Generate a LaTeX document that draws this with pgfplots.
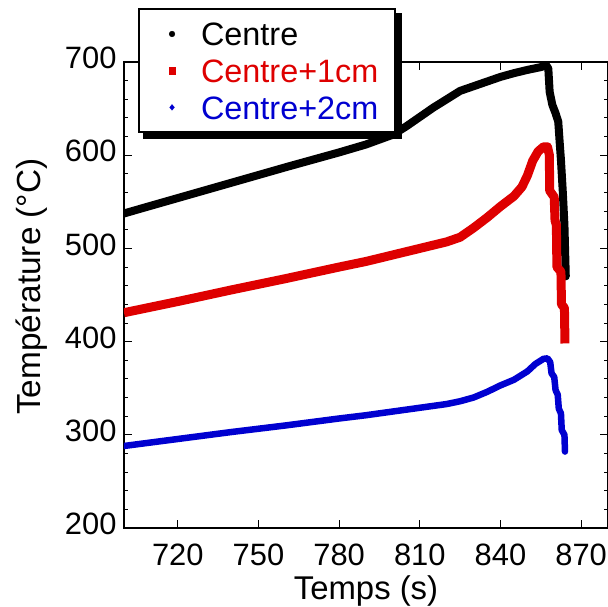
\documentclass[border=0pt]{standalone}
\usepackage{fontspec}
\setmainfont{Liberation Sans}
\usepackage{pgfplots}
\pgfplotsset{compat=1.18}
\definecolor{cred}{RGB}{222,0,0}
\definecolor{cblue}{RGB}{0,0,208}
\begin{document}
\begin{tikzpicture}
\begin{axis}[
 scale only axis, width=484bp, height=466bp,
 xmin=700, xmax=880, ymin=200, ymax=700,
 xtick={720,750,...,870}, ytick={200,300,...,700},
 minor y tick num=4,
 tick align=inside,
 major tick length=8bp, minor tick length=4bp,
 axis line style={line width=1.2bp},
 every tick/.style={black, line width=0.9bp},
 /pgf/number format/assume math mode=true,
 tick label style={font=\fontsize{31}{31}\selectfont},
 yticklabel style={xshift=-4bp,yshift=4bp},
 xticklabel style={yshift=-12bp},
 xlabel={Temps (s)}, ylabel={Température (°C)},
 every axis x label/.style={at={(axis description cs:0.5,-0.1545)}, anchor=base, font=\fontsize{33}{33}\selectfont},
 every axis y label/.style={at={(axis description cs:-0.1725,0.518)}, anchor=base, rotate=90, font=\fontsize{33.5}{33.5}\selectfont},
 legend cell align=left,
 legend style={name=leg, at={(axis description cs:0.0289,1.1159)}, anchor=north west, draw=black, line width=2bp, fill=white, inner xsep=0bp, inner ysep=7bp, row sep=0.7bp, font=\fontsize{32.5}{32.5}\selectfont, nodes={inner sep=0bp, text height=30bp, text depth=6bp, text width=194bp, align=left}},
]
\coordinate (bl) at (rel axis cs:0,0);
\coordinate (tr) at (rel axis cs:1,1);
\addplot[black, line width=8bp, line join=round, line cap=round, forget plot]
 coordinates {(700,537.5)(720,554)(740,570.5)(760,587)(780,603)(790,611.5)(800,622)(805,631)(810,641)(815,651)(820,660)(825,669)(830,674)(835,679)(840,684)(845,688)(850,691.5)(855,694.5)(857,696.5)(857.8,693)(858.3,668)(859.3,654)(860.5,645)(861.5,636)(862,615)(862.5,595)(863.2,560)(863.8,525)(864.3,470)};
\addplot[cred, line width=9bp, line join=round, forget plot]
 coordinates {(700,431)(720,443)(740,455.5)(760,467.5)(780,480)(790,486)(800,493)(810,500)(820,507)(825,512)(830,522)(835,533)(840,545)(845,556)(848,566)(850,578)(852,594)(854,604)(856,609)(857.5,609)(858.2,600)(858.3,562)(860,555)(860.3,530)(860.8,525)(861,480)(862.5,475)(862.7,440)(863.8,436)(864,398)};
\addplot[cblue, line width=6.5bp, line join=round, line cap=round, forget plot]
 coordinates {(700,288)(720,295.5)(740,303)(760,310)(780,317.5)(790,321)(800,325)(810,329)(820,333)(825,336)(830,340)(835,346)(840,353)(845,359)(850,368)(853,376)(856,381.5)(857.5,382)(858.5,378)(859,366)(860,362)(860.5,348)(861.3,343)(861.7,328)(862.5,323)(862.8,305)(863.8,300)(864,282)};
\addlegendimage{black, line width=0.1bp, legend image code/.code={\path[draw opacity=0,fill opacity=0] (0bp,0bp) -- (62bp,0bp); \fill[black] (33bp,0bp) circle (3bp);}}
\addlegendentry{Centre}
\addlegendimage{cred, line width=0.1bp, legend image code/.code={\path[draw opacity=0,fill opacity=0] (0bp,0bp) -- (62bp,0bp); \fill[cred] (29.7bp,-3.3bp) rectangle (36.3bp,3.3bp);}}
\addlegendentry{\textcolor{cred}{Centre+1cm}}
\addlegendimage{cblue, line width=0.1bp, legend image code/.code={\path[draw opacity=0,fill opacity=0] (0bp,0bp) -- (62bp,0bp); \fill[cblue] (33bp,3bp) -- (35.5bp,0bp) -- (33bp,-3bp) -- (30.5bp,0bp) -- cycle;}}
\addlegendentry{\textcolor{cblue}{Centre+2cm}}
\end{axis}
\fill[black] ([xshift=5bp,yshift=-6bp]leg.south west) rectangle ([xshift=6bp]leg.south east);
\fill[black] ([yshift=-6bp]leg.south east) rectangle ([xshift=6bp,yshift=-5bp]leg.north east);
\pgfresetboundingbox
\path[use as bounding box] ([xshift=-124bp,yshift=-79bp]bl) rectangle ([yshift=62bp]tr);
\end{tikzpicture}
\end{document}
